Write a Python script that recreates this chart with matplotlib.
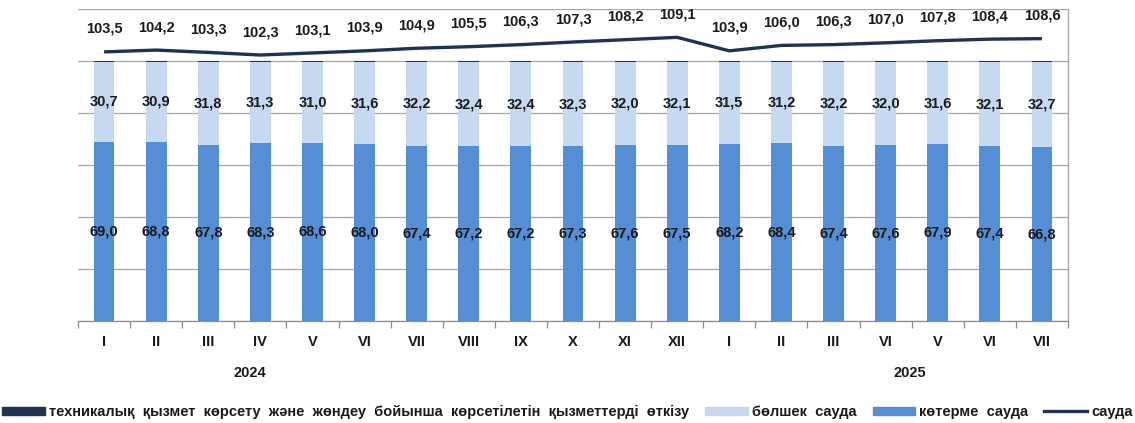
import matplotlib.pyplot as plt
import numpy as np
from matplotlib.patches import Patch
from matplotlib.lines import Line2D

plt.rcParams['font.family'] = ['Liberation Sans', 'DejaVu Sans']

months = ['I', 'II', 'III', 'IV', 'V', 'VI', 'VII', 'VIII', 'IX', 'X', 'XI', 'XII',
          'I', 'II', 'III', 'VI', 'V', 'VI', 'VII']
wholesale = [69.0, 68.8, 67.8, 68.3, 68.6, 68.0, 67.4, 67.2, 67.2, 67.3, 67.6, 67.5,
             68.2, 68.4, 67.4, 67.6, 67.9, 67.4, 66.8]
retail = [30.7, 30.9, 31.8, 31.3, 31.0, 31.6, 32.2, 32.4, 32.4, 32.3, 32.0, 32.1,
          31.5, 31.2, 32.2, 32.0, 31.6, 32.1, 32.7]
service = [0.3, 0.3, 0.4, 0.4, 0.4, 0.4, 0.4, 0.4, 0.4, 0.4, 0.4, 0.4,
           0.3, 0.4, 0.4, 0.4, 0.5, 0.5, 0.5]
trade = [103.5, 104.2, 103.3, 102.3, 103.1, 103.9, 104.9, 105.5, 106.3, 107.3, 108.2, 109.1,
         103.9, 106.0, 106.3, 107.0, 107.8, 108.4, 108.6]

c_whole = '#558ed5'
c_retail = '#c6d9f1'
c_navy = '#1f3354'
txt = '#1a1a1a'

fig = plt.figure(figsize=(11.35, 4.23), dpi=100)
ax = fig.add_axes([78 / 1135, 1 - 321 / 423, 990 / 1135, 312 / 423])

x = np.arange(len(months))
w = 0.4
wh = np.array(wholesale)
rt = np.array(retail)
ax.bar(x, wh, w, color=c_whole, zorder=2)
ax.bar(x, rt, w, bottom=wh, color=c_retail, zorder=2)
ax.bar(x, service, w, bottom=wh + rt, color=c_navy, zorder=2)
ax.plot(x, trade, color=c_navy, lw=2.4, zorder=3, solid_capstyle='butt')

fs = 10.5
for i in range(len(x)):
    ax.text(x[i], wh[i] / 2, f'{wholesale[i]:.1f}'.replace('.', ','), ha='center', va='center',
            fontsize=fs, fontweight='bold', color=txt, zorder=4)
    ax.text(x[i], wh[i] + rt[i] / 2, f'{retail[i]:.1f}'.replace('.', ','), ha='center', va='center',
            fontsize=fs, fontweight='bold', color=txt, zorder=4)
    ax.annotate(f'{trade[i]:.1f}'.replace('.', ','), (x[i], trade[i]), xytext=(0, 16.5),
                textcoords='offset points', ha='center', va='center',
                fontsize=fs, fontweight='bold', color=txt, zorder=4)

ax.set_xlim(-0.5, len(months) - 0.5)
ax.set_ylim(0, 120)
ax.set_yticks(np.arange(0, 121, 20))
ax.yaxis.grid(True, color='#a6a6a6', lw=0.9, zorder=0)
ax.tick_params(axis='y', length=0, labelleft=False)

ax.set_xticks(x)
ax.set_xticklabels(months, fontsize=fs, fontweight='bold', color=txt)
ax.set_xticks(np.arange(-0.5, len(months), 1), minor=True)
ax.tick_params(axis='x', which='major', length=0, pad=10)
ax.tick_params(axis='x', which='minor', length=5, color='#8c8c8c', width=0.9)

for s in ['left', 'top']:
    ax.spines[s].set_visible(False)
ax.spines['right'].set_color('#a6a6a6')
ax.spines['bottom'].set_color('#8c8c8c')
ax.spines['right'].set_linewidth(0.9)
ax.spines['bottom'].set_linewidth(0.9)

fig.text(250 / 1135, 1 - 373 / 423, '2024', ha='center', va='center',
         fontsize=fs, fontweight='bold', color=txt)
fig.text(910 / 1135, 1 - 373 / 423, '2025', ha='center', va='center',
         fontsize=fs, fontweight='bold', color=txt)

handles = [Patch(color=c_navy), Patch(color=c_retail), Patch(color=c_whole),
           Line2D([0], [0], color=c_navy, lw=2.4)]
labels = ['техникалық  қызмет  көрсету  және  жөндеу  бойынша  көрсетілетін  қызметтерді  өткізу',
          'бөлшек  сауда', 'көтерме  сауда', 'сауда']
leg = fig.legend(handles, labels, loc='center', bbox_to_anchor=(0.5, 1 - 412 / 423), ncol=4,
                 frameon=False, handlelength=2.9, handleheight=0.5, handletextpad=0.3,
                 columnspacing=1.1, prop={'size': fs, 'weight': 'bold'})
for t in leg.get_texts():
    t.set_color(txt)

fig.savefig('out.png', dpi=100)
